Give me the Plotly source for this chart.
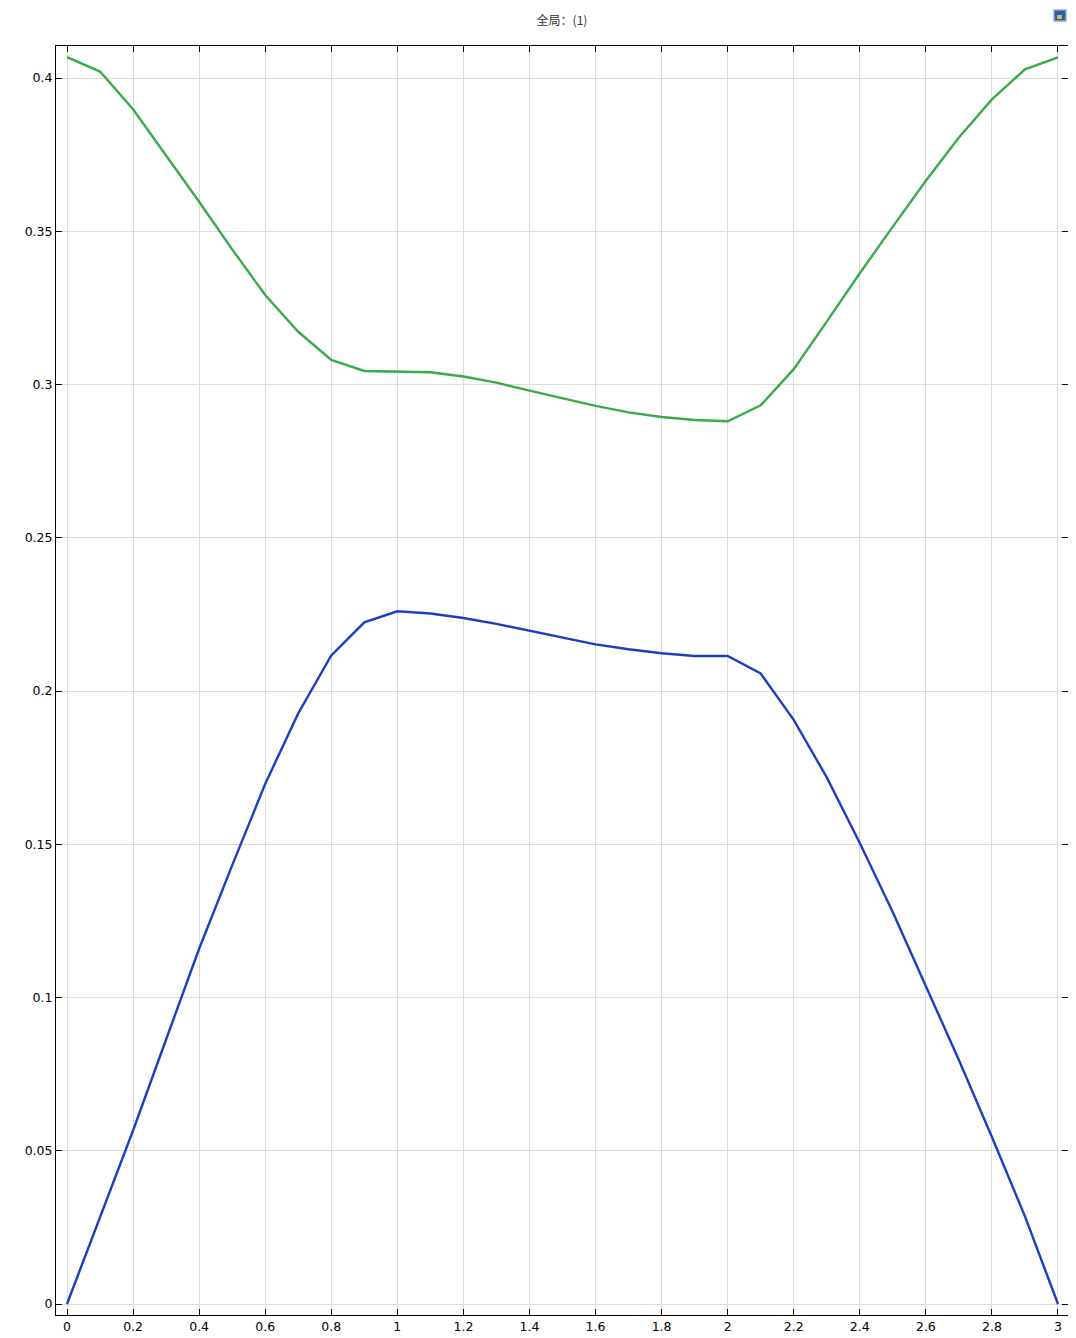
import plotly.graph_objects as go

x_vals = [0.0, 0.1, 0.2, 0.3, 0.4, 0.5, 0.6, 0.7, 0.8, 0.9, 1.0, 1.1, 1.2, 1.3, 1.4, 1.5,
          1.6, 1.7, 1.8, 1.9, 2.0, 2.1, 2.2, 2.3, 2.4, 2.5, 2.6, 2.7, 2.8, 2.9, 3.0]

green_vals = [0.4068, 0.4021, 0.3898, 0.3749, 0.3596, 0.3441, 0.3292, 0.3172, 0.3080, 0.3044,
              0.3043, 0.3040, 0.3026, 0.3006, 0.2980, 0.2954, 0.2930, 0.2909, 0.2894, 0.2884,
              0.2880, 0.2932, 0.3050, 0.3205, 0.3363, 0.3515, 0.3665, 0.3806, 0.3930, 0.4028, 0.4067]

blue_vals = [0.0, 0.0286, 0.0566, 0.0863, 0.1159, 0.1431, 0.1697, 0.1927, 0.2116, 0.2224,
             0.2260, 0.2253, 0.2238, 0.2219, 0.2196, 0.2173, 0.2152, 0.2136, 0.2123, 0.2114,
             0.2114, 0.2057, 0.1906, 0.1718, 0.1504, 0.1278, 0.1034, 0.0796, 0.0545, 0.0286, 0.0]

x_ticks = [0, 0.2, 0.4, 0.6, 0.8, 1, 1.2, 1.4, 1.6, 1.8, 2, 2.2, 2.4, 2.6, 2.8, 3]
x_tick_text = ["0", "0.2", "0.4", "0.6", "0.8", "1", "1.2", "1.4", "1.6", "1.8", "2",
               "2.2", "2.4", "2.6", "2.8", "3"]
y_ticks = [0, 0.05, 0.1, 0.15, 0.2, 0.25, 0.3, 0.35, 0.4]
y_tick_text = ["0", "0.05", "0.1", "0.15", "0.2", "0.25", "0.3", "0.35", "0.4"]

title_text = "全局：(1)"

W, H = 1076, 1338
OFF = 8  # default page body margin

fig = go.Figure()
fig.add_trace(go.Scatter(x=x_vals, y=green_vals, mode="lines",
                         line=dict(color="rgb(58,170,74)", width=2.4), showlegend=False))
fig.add_trace(go.Scatter(x=x_vals, y=blue_vals, mode="lines",
                         line=dict(color="rgb(30,62,192)", width=2.4), showlegend=False))

axis_common = dict(showline=True, linecolor="black", linewidth=1, mirror="ticks",
                   ticks="inside", ticklen=6, tickcolor="black", showgrid=True,
                   gridcolor="rgb(220,220,220)", gridwidth=1, zeroline=False,
                   tickfont=dict(family="DejaVu Sans, sans-serif", size=12.5, color="black"))

fig.update_xaxes(range=[-0.0333, 3.0303], tickvals=x_ticks, ticktext=x_tick_text, **axis_common)
fig.update_yaxes(range=[-0.00359, 0.41044], tickvals=y_ticks, ticktext=y_tick_text, **axis_common)

fig.update_layout(
    width=W, height=H,
    margin=dict(l=56 - OFF, r=W + OFF - 1068, t=46 - OFF, b=H + OFF - 1315, pad=0),
    plot_bgcolor="white", paper_bgcolor="white",
    title=dict(text=title_text, x=(562 - OFF) / W, xanchor="center",
               y=1 - (21 - OFF) / H, yanchor="middle",
               font=dict(family="Noto Sans CJK SC, sans-serif", size=12, color="#333")),
)

# small icon in the top-right corner
fig.add_shape(type="rect", xref="paper", yref="paper",
              x0=(1054 - 56) / 1012, x1=(1066 - 56) / 1012,
              y0=(1315 - 21) / 1269, y1=(1315 - 10) / 1269,
              fillcolor="rgb(40,90,170)", line=dict(color="rgb(150,170,200)", width=1.5))
fig.add_shape(type="rect", xref="paper", yref="paper",
              x0=(1057 - 56) / 1012, x1=(1062 - 56) / 1012,
              y0=(1315 - 19) / 1269, y1=(1315 - 15) / 1269,
              fillcolor="rgb(200,200,80)", line=dict(width=0))

fig.write_html("out.html")
